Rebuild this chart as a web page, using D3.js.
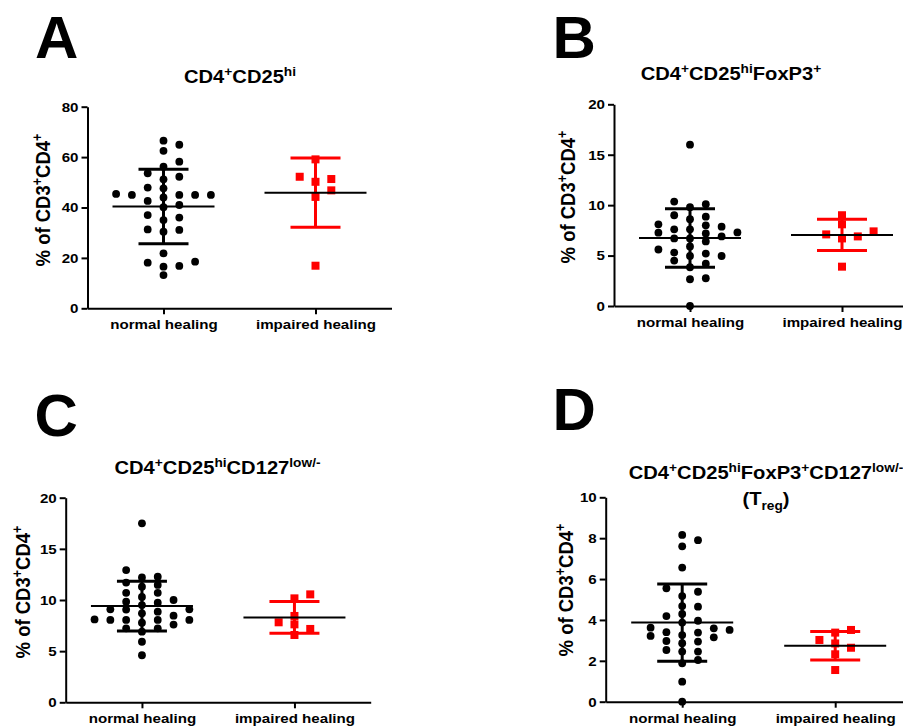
<!DOCTYPE html>
<html>
<head>
<meta charset="utf-8">
<script src="https://cdn.jsdelivr.net/npm/d3@7"></script>
<style>
  body { margin: 0; background: #fff; }
  svg { display: block; }
  text { font-family: "Liberation Sans", Arial, sans-serif; font-weight: bold; fill: #000; }
</style>
</head>
<body>
<div id="chart"></div>
<script>
// groups on the x axis
const categories = ["normal healing", "impaired healing"];

// A: CD4+CD25hi
const normalA = [66.5, 64.9, 62.5, 58.2, 56.2, 53.6, 52.2, 51.2, 47.9, 47.6, 45.4, 45.0, 45.0, 45.0, 45.0, 44.0,
  42.6, 41.0, 40.1, 37.0, 36.0, 35.0, 31.3, 31.1, 30.4, 21.8, 18.5, 18.1, 16.8, 16.5, 13.2];
const impairedA = [59.1, 52.2, 51.3, 50.2, 46.8, 44.2, 16.9];
const meanA = [40.4, 45.9];
const sdA = [14.8, 13.7];
const ticksA = [0, 20, 40, 60, 80];

// B: CD4+CD25hiFoxP3+
const normalB = [16.0, 10.35, 10.1, 9.8, 9.0, 8.86, 8.6, 8.1, 8.0, 7.87, 7.6, 7.6, 7.3, 7.27, 7.2, 6.9, 6.7, 6.7,
  6.4, 5.9, 5.6, 5.3, 5.2, 4.96, 4.96, 4.5, 4.2, 3.84, 2.75, 2.65, 0];
const impairedB = [9.0, 8.1, 7.4, 7.1, 6.9, 6.7, 3.9];
const meanB = [6.74, 7.05];
const sdB = [2.9, 1.55];
const ticksB = [0, 5, 10, 15, 20];

// C: CD4+CD25hiCD127low/-
const normalC = [17.5, 12.93, 12.28, 12.2, 11.7, 11.47, 11.3, 10.7, 10.7, 10.3, 10.0, 9.83, 9.74, 9.5, 9.09, 9.09,
  9.06, 8.86, 8.7, 8.47, 8.1, 8.05, 8.05, 8.05, 8.05, 7.78, 7.6, 7.23, 7.23, 6.9, 5.92, 4.6];
const impairedC = [10.55, 10.16, 8.44, 7.82, 7.62, 7.17, 6.58];
const meanC = [9.41, 8.3];
const sdC = [2.43, 1.55];
const ticksC = [0, 5, 10, 15, 20];

// D: CD4+CD25hiFoxP3+CD127low/- (Treg)
const normalD = [8.16, 7.9, 7.6, 6.56, 5.55, 5.38, 5.17, 4.68, 4.65, 4.29, 4.19, 3.96, 3.87, 3.62, 3.59, 3.51,
  3.4, 3.38, 3.26, 3.22, 3.15, 2.97, 2.94, 2.86, 2.53, 2.45, 2.45, 2.04, 1.88, 0.98, 0];
const impairedD = [3.51, 3.38, 3.02, 2.85, 2.64, 2.32, 1.55];
const meanD = [3.87, 2.74];
const sdD = [1.89, 0.7];
const ticksD = [0, 2, 4, 6, 8, 10];

// title pieces: [text, "sup" | "sub" | ""]
const titleA = [["CD4", ""], ["+", "sup"], ["CD25", ""], ["hi", "sup"]];
const titleB = [["CD4", ""], ["+", "sup"], ["CD25", ""], ["hi", "sup"], ["FoxP3", ""], ["+", "sup"]];
const titleC = [["CD4", ""], ["+", "sup"], ["CD25", ""], ["hi", "sup"], ["CD127", ""], ["low/-", "sup"]];
const titleD = [["CD4", ""], ["+", "sup"], ["CD25", ""], ["hi", "sup"], ["FoxP3", ""], ["+", "sup"],
  ["CD127", ""], ["low/-", "sup"]];
const titleD2 = [["(T", ""], ["reg", "sub"], [")", ""]];
const yLabel = [["% of CD3", ""], ["+", "sup"], ["CD4", ""], ["+", "sup"]];

const RED = "#ff0000";
const SX = 1.12;      // the figure text is a little wider than tall
const STEP = 15.8;    // horizontal spacing of spread points
const GAP = 7.8;      // vertical distance under which points are spread

const svg = d3.select("#chart").append("svg")
  .attr("width", 903)
  .attr("height", 727);

// rich text with super/subscripts
function rich(text, segs, size) {
  let shift = 0;
  segs.forEach(([s, kind]) => {
    const target = kind === "sup" ? -0.4 * size : kind === "sub" ? 0.3 * size : 0;
    text.append("tspan")
      .attr("dy", target - shift)
      .style("font-size", (kind ? size * 0.68 : size) + "px")
      .text(s);
    shift = target;
  });
}

// column index for each point so that close values sit side by side
function swarm(values, y) {
  const order = d3.range(values.length).sort((a, b) => values[a] - values[b]);
  const placed = [];
  const cols = new Array(values.length);
  order.forEach(i => {
    const py = y(values[i]);
    for (let n = 0; ; n++) {
      const k = n === 0 ? 0 : (n % 2 ? (n + 1) / 2 : -n / 2);
      if (!placed.some(p => p.k === k && Math.abs(p.y - py) < GAP)) {
        placed.push({ k, y: py });
        cols[i] = k;
        break;
      }
    }
  });
  return cols;
}

function drawPanel(p) {
  const g = svg.append("g");

  const x = d3.scalePoint().domain(categories).range([p.x0, p.x0 + p.w]).padding(0.5);
  const y = d3.scaleLinear().domain([0, d3.max(p.ticks)]).range([p.bottom, p.top]);

  // panel letter
  g.append("text")
    .attr("x", p.letterX)
    .attr("y", p.letterY)
    .style("font-size", "60px")
    .text(p.letter);

  // title
  p.titles.forEach((t, i) => {
    const tt = g.append("text")
      .attr("transform", `translate(${p.titleX},${p.titleY + i * 26}) scale(${SX},1)`)
      .attr("text-anchor", "middle");
    rich(tt, t, 18);
  });

  // y axis title
  const yl = g.append("text")
    .attr("transform", `translate(${p.labelX},${p.labelY}) scale(${SX},1) rotate(-90)`)
    .attr("text-anchor", "middle");
  rich(yl, yLabel, 18.5);

  // axes
  const yAxis = g.append("g")
    .attr("transform", `translate(${p.x0},0)`)
    .call(d3.axisLeft(y).tickValues(p.ticks).tickSize(6).tickSizeOuter(0).tickPadding(3));
  yAxis.selectAll("text")
    .attr("x", -9 / SX)
    .attr("transform", `scale(${SX},1)`)
    .style("font-size", "13.5px");

  const xAxis = g.append("g")
    .attr("transform", `translate(0,${p.bottom})`)
    .call(d3.axisBottom(x).tickSize(6).tickSizeOuter(0));
  xAxis.selectAll("text")
    .attr("x", 0)
    .attr("y", 21)
    .attr("dy", 0)
    .attr("transform", `scale(${SX},1)`)
    .style("font-size", "13.5px");

  g.selectAll(".domain, .tick line")
    .attr("stroke", "#000")
    .attr("stroke-width", 2);

  // normal healing: black dots
  const colN = swarm(p.normal, y);
  g.append("g").selectAll("circle")
    .data(p.normal)
    .join("circle")
    .attr("cx", (d, i) => x(categories[0]) + colN[i] * STEP)
    .attr("cy", d => y(d))
    .attr("r", 3.9)
    .attr("fill", "#000");

  // impaired healing: red squares
  const colI = swarm(p.impaired, y);
  g.append("g").selectAll("rect")
    .data(p.impaired)
    .join("rect")
    .attr("x", (d, i) => x(categories[1]) + colI[i] * STEP - 4)
    .attr("y", d => y(d) - 4)
    .attr("width", 8)
    .attr("height", 8)
    .attr("fill", RED);

  // mean +/- SD
  categories.forEach((c, i) => {
    const cx = x(c);
    const col = i === 0 ? "#000" : RED;
    const m = p.mean[i], s = p.sd[i];
    const bars = g.append("g").attr("stroke", col).attr("stroke-width", 3).attr("fill", "none");
    bars.append("line").attr("x1", cx).attr("x2", cx).attr("y1", y(m - s)).attr("y2", y(m + s));
    [m - s, m + s].forEach(v => {
      bars.append("line").attr("x1", cx - 25).attr("x2", cx + 25).attr("y1", y(v)).attr("y2", y(v));
    });
    g.append("line")
      .attr("x1", cx - 51).attr("x2", cx + 51)
      .attr("y1", y(m)).attr("y2", y(m))
      .attr("stroke", "#000")
      .attr("stroke-width", 2);
  });
}

const panels = [
  { letter: "A", normal: normalA, impaired: impairedA, mean: meanA, sd: sdA, ticks: ticksA, titles: [titleA],
    x0: 87.5, w: 304, top: 106.7, bottom: 308.3, titleX: 240, titleY: 83, labelX: 50, labelY: 200,
    letterX: 35, letterY: 58 },
  { letter: "B", normal: normalB, impaired: impairedB, mean: meanB, sd: sdB, ticks: ticksB, titles: [titleB],
    x0: 614, w: 304, top: 104.3, bottom: 306, titleX: 731, titleY: 80, labelX: 575, labelY: 197,
    letterX: 552.6, letterY: 58 },
  { letter: "C", normal: normalC, impaired: impairedC, mean: meanC, sd: sdC, ticks: ticksC, titles: [titleC],
    x0: 65.7, w: 305, top: 497.7, bottom: 702.3, titleX: 217.5, titleY: 474, labelX: 30, labelY: 592,
    letterX: 34.4, letterY: 436 },
  { letter: "D", normal: normalD, impaired: impairedD, mean: meanD, sd: sdD, ticks: ticksD, titles: [titleD, titleD2],
    x0: 605.7, w: 306, top: 497.3, bottom: 701.7, titleX: 766, titleY: 479, labelX: 573, labelY: 590,
    letterX: 552.6, letterY: 430 }
];

panels.forEach(drawPanel);
</script>
</body>
</html>
